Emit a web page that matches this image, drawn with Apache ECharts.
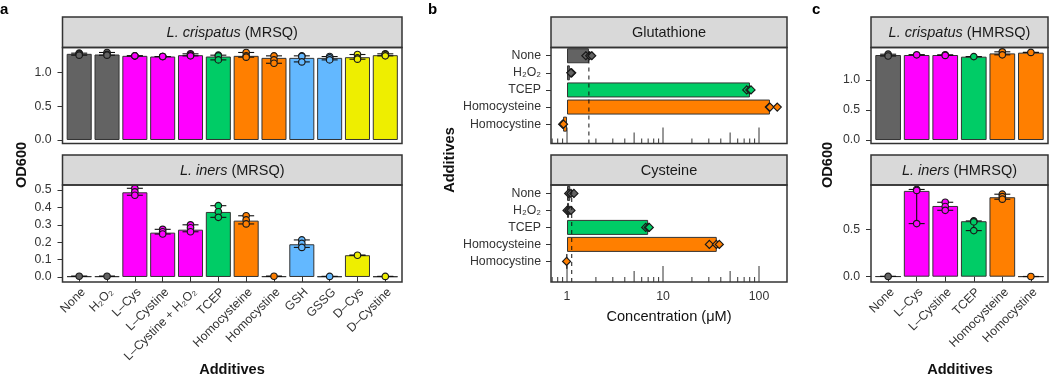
<!DOCTYPE html>
<html>
<head>
<meta charset="utf-8">
<script src="https://cdn.jsdelivr.net/npm/echarts@6/dist/echarts.min.js"></script>
<style>html,body{margin:0;padding:0;background:#fff}#fig{width:1050px;height:390px}</style>
</head>
<body>
<div id="fig"></div>
<script>
var FONT = '"Liberation Sans", Arial, Helvetica, sans-serif';
var INK = '#333333';
var LAB = '#333333';
var GREY = '#636363', MAG = '#ff00ff', GRN = '#00cc66', ORG = '#ff7f00', BLU = '#63b8ff', YEL = '#eeee00';

// ---- panel a : MRSQ
var aCats = ['None', 'H₂O₂', 'L–Cys', 'L–Cystine', 'L–Cystine + H₂O₂', 'TCEP', 'Homocysteine', 'Homocystine', 'GSH', 'GSSG', 'D–Cys', 'D–Cystine'];
var aFill = [GREY, GREY, MAG, MAG, MAG, GRN, ORG, ORG, BLU, BLU, YEL, YEL];
var aCrisBar = [1.28, 1.27, 1.25, 1.24, 1.26, 1.24, 1.25, 1.22, 1.22, 1.22, 1.23, 1.26];
var aCrisPts = [[1.29, 1.28, 1.26], [1.30, 1.27, 1.26], [1.25, 1.25, 1.25], [1.24, 1.24, 1.24], [1.28, 1.26, 1.25],
  [1.26, 1.25, 1.19], [1.30, 1.25, 1.23], [1.25, 1.19, 1.14], [1.25, 1.24, 1.16], [1.24, 1.22, 1.19],
  [1.27, 1.22, 1.20], [1.28, 1.27, 1.25]];
var aInersBar = [0.004, 0.004, 0.487, 0.255, 0.272, 0.374, 0.324, 0.004, 0.188, 0.003, 0.125, 0.003];
var aInersPts = [[0.004], [0.004], [0.51, 0.49, 0.47], [0.274, 0.26, 0.247], [0.30, 0.283, 0.26],
  [0.41, 0.375, 0.343], [0.352, 0.328, 0.305], [0.004], [0.213, 0.193, 0.17], [0.003], [0.125], [0.003]];
var aTicksTop = [0, 0.5, 1.0];
var aTicksBottom = [0, 0.1, 0.2, 0.3, 0.4, 0.5];

// ---- panel b : concentration (uM), log scale
var bCats = ['None', 'H₂O₂', 'TCEP', 'Homocysteine', 'Homocystine'];
var bFill = [GREY, GREY, GRN, ORG, ORG];
var bGluBar = [1.69, 1.07, 80.5, 130, 0.91];
var bGluPts = [[1.57, 1.72, 1.81], [1.1, 1.12, 1.1], [74.5, 80, 82.6], [128, 130, 155], [0.9, 0.92]];
var bGluRef = 1.69;
var bCysBar = [1.08, 1.05, 7.0, 36.3, 0.99];
var bCysPts = [[1.04, 1.1, 1.18], [1.0, 1.05, 1.1], [6.6, 7.0, 7.2], [30.4, 36, 38.6], [0.99]];
var bCysRef = 1.12;
var bLogTicks = [0.7, 0.8, 0.9, 1, 2, 3, 4, 5, 6, 7, 8, 9, 10, 20, 30, 40, 50, 60, 70, 80, 90, 100];
var bLabels = [1, 10, 100];

// ---- panel c : HMRSQ
var cCats = ['None', 'L–Cys', 'L–Cystine', 'TCEP', 'Homocysteine', 'Homocystine'];
var cFill = [GREY, MAG, MAG, GRN, ORG, ORG];
var cCrisBar = [1.417, 1.417, 1.417, 1.389, 1.444, 1.456];
var cCrisPts = [[1.43, 1.40], [1.42], [1.42, 1.41], [1.39], [1.47, 1.42], [1.46]];
var cInersBar = [0.003, 0.905, 0.746, 0.585, 0.838, 0.002];
var cInersPts = [[0.003], [0.92, 0.91, 0.56], [0.785, 0.74, 0.70], [0.588, 0.578, 0.486], [0.87, 0.845, 0.817], [0.002]];
var cTicksTop = [0, 0.5, 1.0];
var cTicksBottom = [0, 0.5];

// ---- layout (pixels)
var A = [62.5, 402], B = [551, 787], C = [871, 1048];
var ROW1 = {strip: 17, top: 47.5, bottom: 143.5};
var ROW2 = {strip: 155, top: 185, bottom: 282};

var grids = [], xAxes = [], yAxes = [], series = [], graphics = [];

function lab(size, extra) {
  var o = {fontFamily: FONT, fontSize: size, color: LAB};
  for (var k in extra) o[k] = extra[k];
  return o;
}

function frame(xr, row, stripText) {
  graphics.push({type: 'rect', z: 50, shape: {x: xr[0], y: row.strip, width: xr[1] - xr[0], height: row.top - row.strip},
    style: {fill: '#d9d9d9', stroke: INK, lineWidth: 1.5}});
  graphics.push({type: 'rect', z: 50, shape: {x: xr[0], y: row.top, width: xr[1] - xr[0], height: row.bottom - row.top},
    style: {fill: 'none', stroke: INK, lineWidth: 1.5}});
  graphics.push({type: 'text', z: 51, x: (xr[0] + xr[1]) / 2, y: (row.strip + row.top) / 2 + 1,
    style: {text: stripText, fill: '#1a1a1a', font: '14.5px ' + FONT, align: 'center', verticalAlign: 'middle',
      rich: {i: {fontStyle: 'italic', fontSize: 14.5, fontFamily: FONT, fill: '#1a1a1a'}}}});
}

function vErr(params, api) {
  var lo = api.coord([api.value(0), api.value(1)]);
  var hi = api.coord([api.value(0), api.value(2)]);
  var w = 8, st = {stroke: '#111', lineWidth: 1.1};
  return {type: 'group', children: [
    {type: 'line', shape: {x1: lo[0], y1: lo[1], x2: hi[0], y2: hi[1]}, style: st},
    {type: 'line', shape: {x1: lo[0] - w, y1: lo[1], x2: lo[0] + w, y2: lo[1]}, style: st},
    {type: 'line', shape: {x1: hi[0] - w, y1: hi[1], x2: hi[0] + w, y2: hi[1]}, style: st}
  ]};
}

function hErr(params, api) {
  var lo = api.coord([api.value(0), api.value(2)]);
  var hi = api.coord([api.value(1), api.value(2)]);
  var h = 4, st = {stroke: '#111', lineWidth: 1.1};
  return {type: 'group', children: [
    {type: 'line', shape: {x1: lo[0], y1: lo[1], x2: hi[0], y2: hi[1]}, style: st},
    {type: 'line', shape: {x1: lo[0], y1: lo[1] - h, x2: lo[0], y2: lo[1] + h}, style: st},
    {type: 'line', shape: {x1: hi[0], y1: hi[1] - h, x2: hi[0], y2: hi[1] + h}, style: st}
  ]};
}

function logTick(params, api) {
  var v = api.value(0);
  var p = api.coord([v, 0]);
  var m = Math.round(v / Math.pow(10, Math.floor(Math.log10(v) + 1e-9)));
  var len = m === 1 ? 16 : (m === 5 ? 11 : 5);
  return {type: 'line', shape: {x1: p[0], y1: p[1], x2: p[0], y2: p[1] - len}, style: {stroke: INK, lineWidth: 1}};
}

// vertical bar panel (a, c)
function odPanel(xr, row, cats, fills, bars, pts, ticks, yr, showX, stripText) {
  var gi = grids.length;
  var pitch = (xr[1] - xr[0]) / (cats.length + 0.2);
  var inset = pitch * 0.1;
  grids.push({left: xr[0] + inset, width: pitch * cats.length, top: row.top, height: row.bottom - row.top});
  xAxes.push({type: 'category', gridIndex: gi, data: cats, show: showX,
    axisLine: {show: false},
    axisTick: {show: showX, alignWithLabel: true, length: 5, lineStyle: {color: INK, width: 1}},
    axisLabel: lab(12.3, {rotate: 45, interval: 0, margin: 4, verticalAlign: 'top'})});
  yAxes.push({type: 'value', gridIndex: gi, min: yr[0], max: yr[1], offset: inset, splitLine: {show: false},
    axisLine: {show: false},
    axisTick: {show: true, length: 5, customValues: ticks, lineStyle: {color: INK, width: 1}},
    axisLabel: lab(12.3, {customValues: ticks, margin: 11, formatter: function (v) { return v.toFixed(1); }})});
  series.push({type: 'bar', xAxisIndex: gi, yAxisIndex: gi, barWidth: '90%', z: 2,
    itemStyle: {borderColor: INK, borderWidth: 1},
    data: bars.map(function (v, i) { return {value: v, itemStyle: {color: fills[i]}}; })});
  series.push({type: 'custom', xAxisIndex: gi, yAxisIndex: gi, z: 3, renderItem: vErr, encode: {x: 0, y: [1, 2]},
    data: pts.map(function (p, i) { return [i, Math.min.apply(null, p), Math.max.apply(null, p)]; })});
  var sd = [];
  pts.forEach(function (p, i) {
    p.forEach(function (v) { sd.push({value: [i, v], itemStyle: {color: fills[i]}}); });
  });
  series.push({type: 'scatter', xAxisIndex: gi, yAxisIndex: gi, z: 4, clip: false, symbol: 'circle', symbolSize: 6.5,
    itemStyle: {borderColor: '#1a1a1a', borderWidth: 1.2, opacity: 1}, data: sd});
  frame(xr, row, stripText);
}

// horizontal log panel (b)
function concPanel(row, bandTop, bandPitch, bars, pts, ref, showX, stripText) {
  var xMin = 0.681, xMax = 195.7;
  var gi = grids.length;
  grids.push({left: B[0], width: B[1] - B[0], top: bandTop, height: bandPitch * bCats.length});
  xAxes.push({type: 'log', gridIndex: gi, logBase: 10, min: xMin, max: xMax, show: false, splitLine: {show: false}});
  yAxes.push({type: 'category', gridIndex: gi, data: bCats, inverse: true,
    axisLine: {show: false},
    axisTick: {show: true, alignWithLabel: true, length: 5, lineStyle: {color: INK, width: 1}},
    axisLabel: lab(12.3, {margin: 10, interval: 0})});
  series.push({type: 'bar', xAxisIndex: gi, yAxisIndex: gi, barWidth: 15, z: 2, clip: false,
    itemStyle: {borderColor: INK, borderWidth: 1},
    data: bars.map(function (v, i) { return {value: v, itemStyle: {color: bFill[i]}}; })});
  series.push({type: 'custom', xAxisIndex: gi, yAxisIndex: gi, z: 3, renderItem: hErr, encode: {x: [0, 1], y: 2},
    data: pts.map(function (p, i) { return [Math.min.apply(null, p), Math.max.apply(null, p), i]; })});
  var sd = [];
  pts.forEach(function (p, i) {
    p.forEach(function (v) { sd.push({value: [v, i], itemStyle: {color: bFill[i]}}); });
  });
  series.push({type: 'scatter', xAxisIndex: gi, yAxisIndex: gi, z: 4, clip: false, symbol: 'diamond', symbolSize: 8,
    itemStyle: {borderColor: '#1a1a1a', borderWidth: 1.2, opacity: 1}, data: sd});

  // full-frame grid for log ticks, reference line and the x axis
  var fi = grids.length;
  grids.push({left: B[0], width: B[1] - B[0], top: row.top, height: row.bottom - row.top});
  xAxes.push({type: 'log', gridIndex: fi, logBase: 10, min: xMin, max: xMax, show: showX, splitLine: {show: false},
    axisLine: {show: false}, axisTick: {show: false},
    axisLabel: lab(12.3, {customValues: bLabels, margin: 9}),
    name: 'Concentration (μM)', nameLocation: 'middle', nameGap: 27,
    nameTextStyle: {fontFamily: FONT, fontSize: 14.6, color: '#111'}});
  yAxes.push({type: 'value', gridIndex: fi, min: 0, max: 1, show: false});
  series.push({type: 'custom', xAxisIndex: fi, yAxisIndex: fi, z: 3, renderItem: logTick, encode: {x: 0, y: 1},
    data: bLogTicks.map(function (v) { return [v, 0]; })});
  series.push({type: 'line', xAxisIndex: fi, yAxisIndex: fi, z: 5, symbol: 'none',
    lineStyle: {color: '#111', width: 1, type: [4, 4]}, data: [[ref, 0], [ref, 1]]});
  frame(B, row, stripText);
}

odPanel(A, ROW1, aCats, aFill, aCrisBar, aCrisPts, aTicksTop, [-0.052, 1.374], false, '{i|L. crispatus} (MRSQ)');
odPanel(A, ROW2, aCats, aFill, aInersBar, aInersPts, aTicksBottom, [-0.029, 0.529], true, '{i|L. iners} (MRSQ)');
concPanel(ROW1, 47.2, 17.1, bGluBar, bGluPts, bGluRef, false, 'Glutathione');
concPanel(ROW2, 184.9, 17.0, bCysBar, bCysPts, bCysRef, true, 'Cysteine');
odPanel(C, ROW1, cCats, cFill, cCrisBar, cCrisPts, cTicksTop, [-0.058, 1.542], false, '{i|L. crispatus} (HMRSQ)');
odPanel(C, ROW2, cCats, cFill, cInersBar, cInersPts, cTicksBottom, [-0.056, 0.967], true, '{i|L. iners} (HMRSQ)');

// titles and panel letters
function title(txt, x, y, rot, bold) {
  graphics.push({type: 'text', x: x, y: y, rotation: rot, z: 60,
    style: {text: txt, fill: '#111', font: (bold ? 'bold ' : '') + '14.6px ' + FONT, align: 'center', verticalAlign: 'middle'}});
}
title('OD600', 22, 165, Math.PI / 2, true);
title('Additives', 232, 370, 0, true);
title('Additives', 450, 160, Math.PI / 2, true);
title('OD600', 828, 165, Math.PI / 2, true);
title('Additives', 960, 370, 0, true);
graphics.push({type: 'text', x: 0, y: 2, z: 60, style: {text: 'a', fill: '#000', font: 'bold 15px ' + FONT}});
graphics.push({type: 'text', x: 428, y: 2, z: 60, style: {text: 'b', fill: '#000', font: 'bold 15px ' + FONT}});
graphics.push({type: 'text', x: 812, y: 2, z: 60, style: {text: 'c', fill: '#000', font: 'bold 15px ' + FONT}});

var chart = echarts.init(document.getElementById('fig'), null, {renderer: 'canvas'});
chart.setOption({
  animation: false,
  backgroundColor: '#ffffff',
  textStyle: {fontFamily: FONT},
  grid: grids,
  xAxis: xAxes,
  yAxis: yAxes,
  series: series,
  graphic: {elements: graphics}
});
</script>
</body>
</html>
